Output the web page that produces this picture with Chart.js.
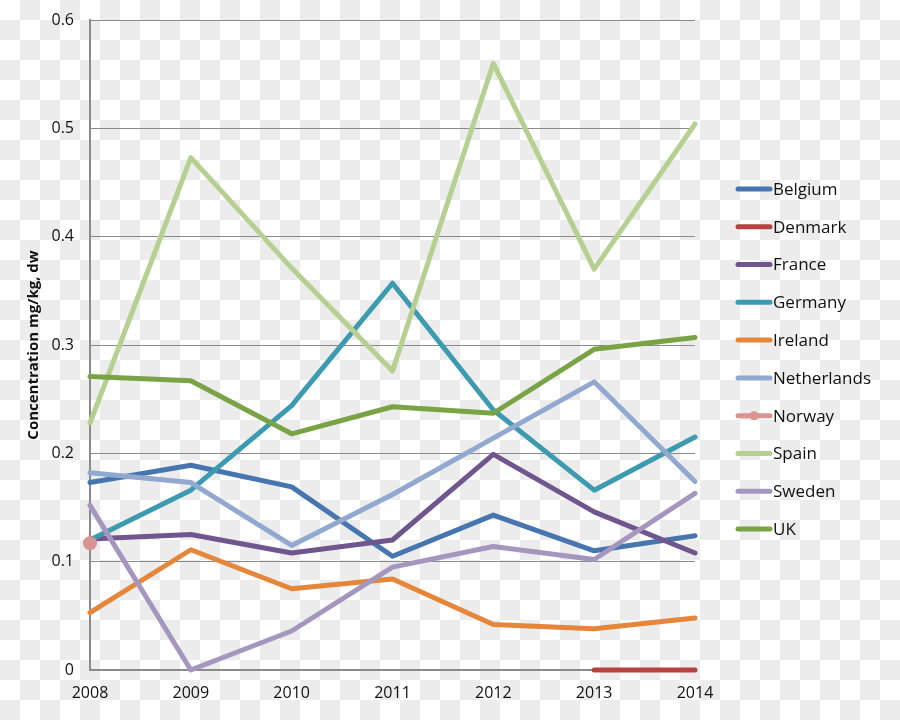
<!DOCTYPE html>
<html>
<head>
<meta charset="utf-8">
<script src="https://cdn.jsdelivr.net/npm/chart.js@4"></script>
<style>
    html, body { margin: 0; padding: 0; }
    body {
        width: 900px; height: 720px;
        background: repeating-conic-gradient(#ececec 0 25%, #ffffff 0 50%) 0 0 / 40px 40px;
    }
    #wrap { position: relative; width: 900px; height: 720px; }
</style>
</head>
<body>
<div id="wrap"><canvas id="chart" width="900" height="720"></canvas></div>
<script>
const years = ['2008', '2009', '2010', '2011', '2012', '2013', '2014'];
const yTickLabels = ['0', '0.1', '0.2', '0.3', '0.4', '0.5', '0.6'];

const belgium     = [0.173, 0.189, 0.169, 0.105, 0.143, 0.110, 0.124];
const denmark     = [null, null, null, null, null, 0, 0];
const france      = [0.121, 0.125, 0.108, 0.120, 0.199, 0.146, 0.108];
const germany     = [0.120, 0.166, 0.244, 0.357, 0.240, 0.166, 0.215];
const ireland     = [0.053, 0.111, 0.075, 0.084, 0.042, 0.038, 0.048];
const netherlands = [0.182, 0.173, 0.115, 0.162, 0.214, 0.266, 0.174];
const norway      = [0.117, null, null, null, null, null, null];
const spain       = [0.228, 0.473, 0.371, 0.276, 0.560, 0.370, 0.504];
const sweden      = [0.152, 0, 0.036, 0.095, 0.114, 0.102, 0.163];
const uk          = [0.271, 0.267, 0.218, 0.243, 0.237, 0.296, 0.307];

const seriesNames  = ['Belgium', 'Denmark', 'France', 'Germany', 'Ireland', 'Netherlands', 'Norway', 'Spain', 'Sweden', 'UK'];
const seriesValues = [belgium, denmark, france, germany, ireland, netherlands, norway, spain, sweden, uk];
const seriesColors = ['#4675b0', '#b5423f', '#70568f', '#3c9bb1', '#e5873a', '#91a8d0', '#d99391', '#b6d092', '#a596bf', '#7aa346'];

const FONT = "'Open Sans', 'DejaVu Sans', sans-serif";

const datasets = seriesNames.map((name, i) => ({
    label: name,
    data: seriesValues[i],
    borderColor: seriesColors[i],
    backgroundColor: seriesColors[i],
    borderWidth: 5,
    borderJoinStyle: 'round',
    borderCapStyle: 'round',
    pointRadius: name === 'Norway' ? 4.5 : 0,
    pointHoverRadius: 0,
    tension: 0,
    spanGaps: false,
    clip: false,
    order: seriesNames.length - i // Excel draws the last series on top
}));

// legend drawn on the canvas to the right of the plot
const sideLegend = {
    id: 'sideLegend',
    afterDraw(chart) {
        const c = chart.ctx;
        const area = chart.chartArea;
        const x0 = area.right + 43;
        const step = 37.8;
        const mid = (area.top + area.bottom) / 2 + 14;
        const top = mid - step * (seriesNames.length - 1) / 2;
        c.save();
        c.font = '17px ' + FONT;
        c.textBaseline = 'middle';
        c.fillStyle = '#111';
        seriesNames.forEach((name, i) => {
            const y = top + i * step;
            c.strokeStyle = seriesColors[i];
            c.lineWidth = 5;
            c.lineCap = 'round';
            c.beginPath();
            c.moveTo(x0, y);
            c.lineTo(x0 + 32, y);
            c.stroke();
            if (name === 'Norway') {
                c.fillStyle = seriesColors[i];
                c.beginPath();
                c.arc(x0 + 16, y, 4.5, 0, Math.PI * 2);
                c.fill();
                c.fillStyle = '#111';
            }
            c.fillText(name, x0 + 35, y + 1);
        });
        c.restore();
    }
};

new Chart(document.getElementById('chart').getContext('2d'), {
    type: 'line',
    data: { labels: years, datasets: datasets },
    options: {
        responsive: false,
        animation: false,
        layout: { padding: { top: 20, right: 205, left: 0, bottom: 0 } },
        plugins: {
            legend: { display: false },
            tooltip: { enabled: false }
        },
        scales: {
            x: {
                offset: false,
                grid: { display: false, drawTicks: false },
                border: { display: true, color: '#8a8a8a', width: 2 },
                ticks: { color: '#111', font: { family: FONT, size: 16 }, padding: 14, maxRotation: 0 },
                afterFit(scale) { scale.height = 50; }
            },
            y: {
                min: 0,
                max: 0.6,
                grid: { color: '#8a8a8a', lineWidth: 1, drawTicks: false },
                border: { display: true, color: '#8a8a8a', width: 2 },
                ticks: {
                    stepSize: 0.1,
                    color: '#111',
                    font: { family: FONT, size: 16 },
                    padding: 16,
                    callback: (v) => yTickLabels[Math.round(v * 10)]
                },
                title: {
                    display: true,
                    text: 'Concentration mg/kg, dw',
                    color: '#111',
                    font: { family: FONT, size: 15, weight: 'bold' },
                    padding: { top: 25, bottom: 0 }
                },
                afterFit(scale) {
                    scale.width = 90;
                    scale.paddingTop = 0;
                    scale.paddingBottom = 0;
                }
            }
        }
    },
    plugins: [sideLegend]
});
</script>
</body>
</html>
